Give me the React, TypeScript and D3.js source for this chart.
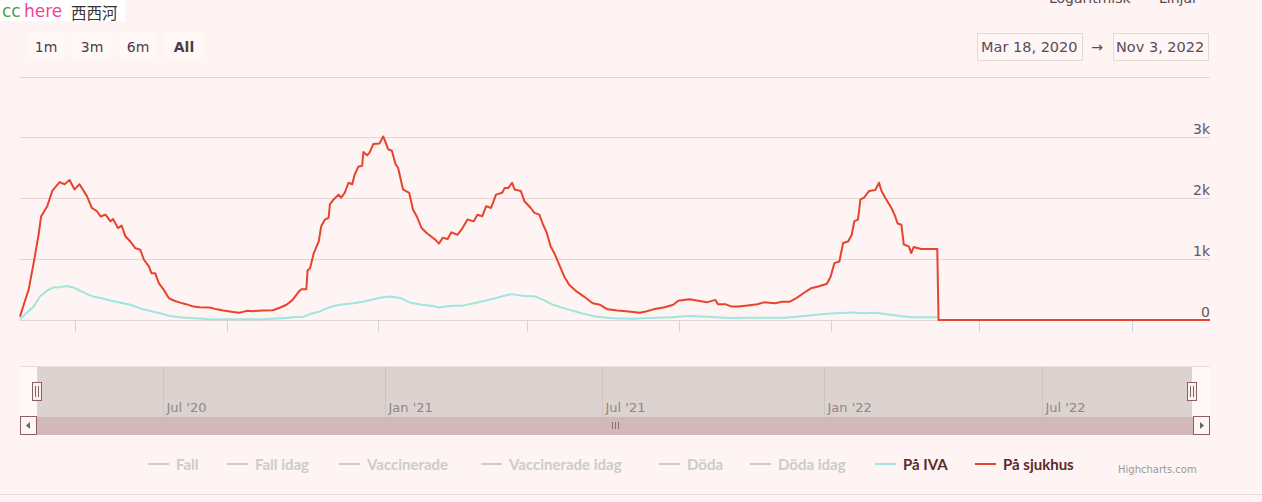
import React from "react";
import * as d3 from "d3";

// ---- data (day offset from start date, value) ----
const startDate = new Date(2020, 2, 18);
const endDate = new Date(2022, 10, 3);

const sjukhusData: [number, number][] = [
  [0, 55], [3, 250], [7, 500], [11, 935], [15, 1400], [17, 1700], [22, 1870], [26, 2120], [28, 2170], [32, 2265],
  [36, 2230], [40, 2300], [44, 2145], [48, 2230], [54, 2035], [58, 1840], [62, 1790], [65, 1700], [69, 1730], [73, 1620],
  [75, 1660], [79, 1510], [82, 1550], [85, 1375], [89, 1290], [93, 1180], [97, 1155], [100, 990], [104, 880], [106, 770],
  [109, 770], [112, 605], [116, 495], [120, 360], [124, 320], [129, 285], [134, 260], [140, 220], [145, 210], [153, 205],
  [159, 175], [164, 155], [172, 130], [177, 120], [183, 150], [188, 145], [196, 155], [204, 160], [210, 205], [215, 250],
  [220, 330], [225, 470], [227, 505], [231, 505], [232, 815], [234, 850], [237, 1100], [241, 1290], [243, 1540], [246, 1650],
  [249, 1680], [250, 1900], [253, 1980], [257, 2060], [259, 2010], [262, 2090], [265, 2255], [268, 2230], [270, 2390], [273, 2520],
  [276, 2530], [277, 2760], [280, 2705], [282, 2750], [285, 2890], [290, 2900], [293, 3015], [295, 2915], [297, 2805], [300, 2780],
  [303, 2560], [305, 2500], [309, 2145], [314, 2090], [317, 1815], [320, 1705], [324, 1510], [328, 1430], [333, 1350], [335, 1320],
  [338, 1255], [341, 1350], [345, 1330], [348, 1440], [353, 1400], [357, 1510], [361, 1650], [366, 1620], [369, 1730], [373, 1705],
  [376, 1870], [380, 1840], [384, 2060], [389, 2090], [391, 2170], [394, 2170], [397, 2255], [399, 2145], [404, 2120], [407, 1950],
  [412, 1840], [415, 1760], [419, 1730], [422, 1565], [425, 1430], [428, 1210], [431, 1100], [435, 910], [439, 715], [443, 580],
  [449, 470], [455, 385], [462, 275], [468, 250], [474, 175], [482, 155], [491, 140], [500, 120], [505, 140], [511, 175],
  [520, 210], [527, 250], [531, 315], [540, 340], [547, 315], [554, 290], [561, 330], [563, 260], [569, 260], [574, 220],
  [580, 220], [587, 240], [595, 260], [600, 290], [609, 275], [615, 300], [621, 300], [626, 355], [632, 440], [638, 520],
  [644, 550], [651, 595], [654, 715], [657, 935], [661, 960], [664, 1265], [668, 1290], [671, 1400], [673, 1620], [676, 1650],
  [678, 1980], [681, 2010], [685, 2120], [690, 2135], [693, 2255], [695, 2120], [698, 2010], [703, 1840], [706, 1705], [708, 1585],
  [711, 1565], [713, 1240], [717, 1210], [719, 1100], [721, 1200], [727, 1165], [740, 1165], [741, 0], [960, 0],
];

const ivaData: [number, number][] = [
  [0, 10], [5, 110], [11, 220], [16, 385], [22, 485], [27, 535], [32, 540], [38, 560], [43, 535], [48, 485],
  [54, 430], [59, 385], [65, 360], [73, 320], [81, 285], [89, 250], [97, 190], [105, 150], [113, 110], [121, 65],
  [129, 45], [140, 28], [151, 17], [167, 11], [183, 11], [199, 17], [212, 28], [220, 45], [229, 55], [234, 100],
  [242, 140], [247, 190], [253, 230], [261, 260], [269, 275], [277, 300], [285, 340], [293, 375], [298, 385], [307, 360],
  [315, 285], [324, 250], [333, 230], [338, 205], [347, 230], [358, 240], [370, 290], [381, 345], [390, 395], [397, 425],
  [405, 400], [416, 385], [422, 330], [430, 250], [442, 175], [453, 110], [465, 55], [479, 28], [494, 22], [508, 33],
  [525, 45], [540, 65], [554, 55], [572, 33], [586, 38], [603, 38], [618, 38], [632, 65], [646, 95], [658, 110],
  [672, 125], [681, 110], [690, 120], [701, 90], [710, 65], [719, 45], [730, 45], [740, 45],
];

const yTickValues = [0, 1000, 2000, 3000, 4000];
const rangeButtons = ["1m", "3m", "6m", "All"];
const legendNames = ["Fall", "Fall idag", "Vaccinerade", "Vaccinerade idag", "Döda", "Döda idag", "På IVA", "På sjukhus"];
const legendColors = ["#cccccc", "#cccccc", "#cccccc", "#cccccc", "#cccccc", "#cccccc", "#9ee6de", "#e8432d"];
const legendActive = [false, false, false, false, false, false, true, true];

// layout constants
const legendX = [148, 227, 339, 481, 659, 750, 875, 975];
const buttonX = [27, 73, 119, 165];

const BG = "#fdf4f3";
const FONT = "'DejaVu Sans', Verdana, sans-serif";
const LEGEND_FONT = "'Lato', sans-serif";

export default function App() {
  const W = 1262;
  const H = 502;
  const plot = { left: 20, right: 1210, top: 76.5, bottom: 320 };
  const nav = { left: 37, right: 1192, top: 367, bottom: 417 };

  const x = d3.scaleTime().domain([startDate, endDate]).range([plot.left, plot.right]);
  const y = d3.scaleLinear().domain([0, 4000]).range([plot.bottom, plot.top]);
  const xNav = d3.scaleTime().domain([startDate, endDate]).range([nav.left, nav.right]);

  const toPts = (arr: [number, number][]) => arr.map(([d, v]) => ({ date: d3.timeDay.offset(startDate, d), v }));
  const line = d3
    .line<{ date: Date; v: number }>()
    .x((p) => x(p.date))
    .y((p) => y(p.v));

  const mainTicks = x.ticks(d3.timeMonth.every(4) as any);
  const navTicks = xNav.ticks(d3.timeMonth.every(6) as any);
  const navFmt = d3.timeFormat("%b '%y");
  const inFmt = d3.timeFormat("%b %-d, %Y");
  const kFmt = (v: number) => (v === 0 ? "0" : `${v / 1000}k`);

  const gripX = (nav.left + nav.right) / 2;

  return (
    <div style={{ position: "fixed", left: 0, top: 0, width: W, height: H, background: BG }}>
      <svg width={W} height={H} style={{ display: "block" }}>
        <rect x={0} y={0} width={W} height={H} fill={BG} />

        {/* logo */}
        <rect x={0} y={0} width={125} height={21} fill="#ffffff" />
        <text x={2} y={17} fontFamily={FONT} fontSize={17} fill="#4a9e4a">cc</text>
        <text x={24} y={17} fontFamily={FONT} fontSize={17} fill="#ee4499">here</text>
        <text x={71} y={18.5} fontFamily="'Noto Sans CJK SC', sans-serif" fontSize={15.5} fill="#333">西西河</text>

        {/* top-right toggles (cut off as in the source) */}
        <text x={1049} y={3} fontFamily={FONT} fontSize={14} fill="#5a4a50">Logaritmisk</text>
        <text x={1159} y={3} fontFamily={FONT} fontSize={14} fill="#5a4a50">Linjär</text>

        {/* range selector */}
        {rangeButtons.map((b, i) => (
          <g key={b}>
            <rect x={buttonX[i]} y={33} width={38} height={25} rx={2} fill="#fff8f7" />
            <text
              x={buttonX[i] + 19}
              y={52}
              textAnchor="middle"
              fontFamily={FONT}
              fontSize={14}
              fontWeight={b === "All" ? "bold" : "normal"}
              fill="#4d3b48"
            >
              {b}
            </text>
          </g>
        ))}

        {/* date inputs */}
        <rect x={977.5} y={33.5} width={105} height={27} fill="#fdf6f5" stroke="#e6d6d6" />
        <text x={981} y={52} fontFamily={FONT} fontSize={14.5} fill="#5c4a5c">{inFmt(startDate)}</text>
        <text x={1097} y={52} textAnchor="middle" fontFamily={FONT} fontSize={14} fill="#5c4a5c">→</text>
        <rect x={1113.5} y={33.5} width={95} height={27} fill="#fdf6f5" stroke="#e6d6d6" />
        <text x={1116} y={52} fontFamily={FONT} fontSize={14.5} fill="#5c4a5c">{inFmt(endDate)}</text>

        {/* gridlines */}
        {yTickValues.map((v) => {
          const yy = Math.round(y(v)) + 0.5;
          return (
            <g key={v}>
              <line x1={plot.left} x2={plot.right} y1={yy} y2={yy} stroke="#e6d4d4" strokeWidth={1} />
              {v < 4000 && (
                <text x={plot.right} y={yy - 3.5} textAnchor="end" fontFamily={FONT} fontSize={14} fill="#6a5262">
                  {kFmt(v)}
                </text>
              )}
            </g>
          );
        })}

        {/* x ticks */}
        {mainTicks.map((t) => {
          const xx = Math.round(x(t)) + 0.5;
          return <line key={+t} x1={xx} x2={xx} y1={321} y2={332} stroke="#ccd6eb" strokeWidth={1} />;
        })}

        {/* series */}
        <path d={line(toPts(ivaData)) || ""} fill="none" stroke="#9ee6de" strokeWidth={2} strokeLinejoin="round" />
        <path d={line(toPts(sjukhusData)) || ""} fill="none" stroke="#e8432d" strokeWidth={2} strokeLinejoin="round" />

        {/* navigator */}
        <rect x={plot.left} y={nav.top} width={plot.right - plot.left} height={nav.bottom - nav.top} fill="#fff8f7" />
        <rect x={nav.left} y={nav.top} width={nav.right - nav.left} height={nav.bottom - nav.top} fill="#dcd3d1" />
        <line x1={plot.left} x2={plot.right} y1={366.5} y2={366.5} stroke="#eadcdc" />
        {navTicks.map((t) => {
          const xx = Math.round(xNav(t)) + 0.5;
          return (
            <g key={+t}>
              <line x1={xx} x2={xx} y1={nav.top} y2={nav.bottom} stroke="#cec5c3" />
              <text x={xx + 3} y={412} fontFamily={FONT} fontSize={13} fill="#8f8686">
                {navFmt(t)}
              </text>
            </g>
          );
        })}
        {[nav.left, nav.right].map((hx) => (
          <g key={hx}>
            <rect x={Math.round(hx) - 4.5} y={382.5} width={9} height={18} fill="#f9f1f0" stroke="#8b6060" />
            <line x1={Math.round(hx) - 1.5} x2={Math.round(hx) - 1.5} y1={386} y2={397} stroke="#8b6060" />
            <line x1={Math.round(hx) + 1.5} x2={Math.round(hx) + 1.5} y1={386} y2={397} stroke="#8b6060" />
          </g>
        ))}

        {/* scrollbar */}
        <rect x={plot.left} y={417} width={plot.right - plot.left} height={18} fill="#d2b8b7" />
        <rect x={20.5} y={416.5} width={16} height={18} fill="#fdf6f5" stroke="#8b6060" />
        <path d="M30,422 L30,429 L26,425.5 Z" fill="#666" />
        <rect x={1193.5} y={416.5} width={16} height={18} fill="#fdf6f5" stroke="#8b6060" />
        <path d="M1200,422 L1200,429 L1204,425.5 Z" fill="#666" />
        {[-3, 0, 3].map((d) => (
          <line key={d} x1={Math.round(gripX) + d + 0.5} x2={Math.round(gripX) + d + 0.5} y1={422} y2={429} stroke="#8a6e6e" />
        ))}

        {/* legend */}
        {legendNames.map((n, i) => (
          <g key={n}>
            <line x1={legendX[i]} x2={legendX[i] + 21} y1={464} y2={464} stroke={legendColors[i]} strokeWidth={2} />
            <text
              x={legendX[i] + 28}
              y={470}
              fontFamily={LEGEND_FONT}
              fontSize={15}
              fontWeight="bold"
              fill={legendActive[i] ? "#5b2b2b" : "#cccccc"}
            >
              {n}
            </text>
          </g>
        ))}
        <text x={1118} y={473} fontFamily={FONT} fontSize={10} fill="#999999">Highcharts.com</text>

        <line x1={0} x2={W} y1={494.5} y2={494.5} stroke="#e8dada" />
      </svg>
    </div>
  );
}
